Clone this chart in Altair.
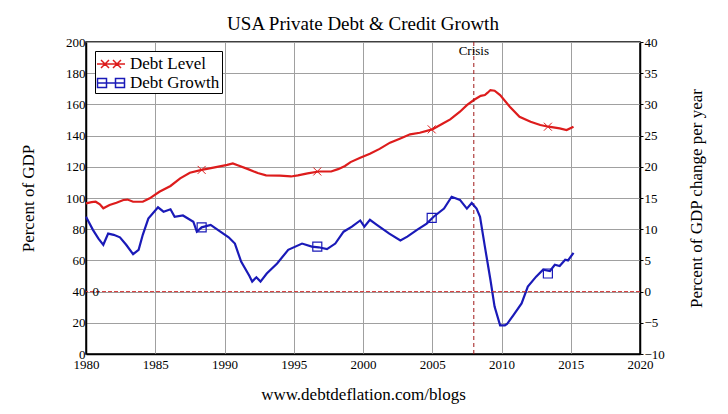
import altair as alt
import pandas as pd

# ---------------- data ----------------
level_years = [1980.0, 1980.4, 1980.7, 1981.0, 1981.25, 1981.7, 1982.2, 1982.7, 1983.0, 1983.4,
               1984.1, 1984.6, 1985.3, 1986.1, 1986.8, 1987.5, 1988.35, 1989.2, 1990.2, 1990.6,
               1991.0, 1991.7, 1992.4, 1993.0, 1994.0, 1994.8, 1995.3, 1996.0, 1996.8, 1997.7,
               1998.2, 1998.7, 1999.1, 1999.8, 2000.5, 2001.2, 2001.95, 2002.7, 2003.4, 2004.1,
               2005.0, 2005.8, 2006.3, 2007.0, 2007.5, 2008.0, 2008.5, 2008.8, 2009.0, 2009.2,
               2009.5, 2009.9, 2010.6, 2011.3, 2012.1, 2012.8, 2013.4, 2014.2, 2014.7, 2015.2]
level_values = [96.6, 97.3, 97.6, 96.0, 93.4, 95.5, 97.0, 98.7, 99.0, 97.6,
                97.6, 99.8, 104.0, 107.7, 112.6, 116.2, 118.0, 119.5, 121.2, 122.2,
                120.8, 118.5, 116.0, 114.5, 114.3, 113.8, 114.5, 115.8, 117.0, 117.0,
                118.5, 120.5, 123.0, 125.8, 128.3, 131.5, 135.5, 138.2, 140.8, 141.8,
                144.0, 147.9, 150.4, 155.3, 159.5, 162.8, 165.5, 166.0, 167.5, 169.2,
                168.8, 166.0, 158.5, 152.0, 148.9, 146.8, 145.7, 144.6, 143.6, 145.7]

growth_years = [1980.0, 1980.5, 1980.9, 1981.25, 1981.6, 1982.0, 1982.45, 1982.9, 1983.4, 1983.8,
                1984.1, 1984.5, 1985.2, 1985.6, 1986.1, 1986.4, 1987.0, 1987.75, 1988.0, 1988.35,
                1989.0, 1989.7, 1990.3, 1990.75, 1991.2, 1991.8, 1992.0, 1992.3, 1992.6, 1993.05,
                1993.8, 1994.6, 1995.6, 1996.3, 1996.8, 1997.4, 1998.0, 1998.6, 1999.2, 1999.8,
                2000.1, 2000.5, 2001.0, 2001.9, 2002.7, 2003.2, 2003.9, 2004.6, 2005.1, 2005.85,
                2006.4, 2007.0, 2007.5, 2007.85, 2008.2, 2008.45, 2008.8, 2009.2, 2009.5, 2009.9,
                2010.25, 2010.4, 2010.85, 2011.45, 2011.9, 2012.5, 2013.0, 2013.5, 2013.85, 2014.2,
                2014.6, 2014.8, 2015.2]
growth_values = [12.0, 9.9, 8.5, 7.5, 9.3, 9.1, 8.7, 7.5, 6.0, 6.7,
                 9.1, 11.7, 13.5, 12.8, 13.2, 12.0, 12.2, 11.2, 9.6, 10.3,
                 10.7, 9.6, 8.7, 7.7, 4.8, 2.5, 1.6, 2.3, 1.6, 2.9,
                 4.5, 6.7, 7.7, 7.2, 7.1, 6.8, 7.7, 9.6, 10.4, 11.4,
                 10.4, 11.5, 10.7, 9.3, 8.2, 8.8, 9.9, 10.9, 12.0, 13.3,
                 15.2, 14.7, 13.3, 14.2, 13.3, 12.0, 7.2, 1.9, -2.4, -5.4,
                 -5.4, -5.2, -3.8, -1.9, 0.8, 2.4, 3.5, 3.3, 4.3, 4.1,
                 5.1, 5.0, 6.2]

marker_years = [1988.35, 1996.7, 2004.96, 2013.35]
level_markers = [118.0, 117.0, 144.0, 145.7]
growth_markers = [10.3, 7.2, 11.8, 2.9]

series_names = ["Debt Level", "Debt Growth"]
crisis_year = [2008]
crisis_label = ["Crisis"]
x_ticks = [1980, 1985, 1990, 1995, 2000, 2005, 2010, 2015, 2020]
left_ticks = [0, 20, 40, 60, 80, 100, 120, 140, 160, 180, 200]
right_ticks = [-10, -5, 0, 5, 10, 15, 20, 25, 30, 35, 40]

# ---------------- styling ----------------
RED = "#dd1c1c"
BLUE = "#1a1ab8"
FONT = "Liberation Serif"

df_level = pd.DataFrame({"year": level_years, "level": level_values})
df_growth = pd.DataFrame({"year": growth_years, "growth": growth_values})
df_lmark = pd.DataFrame({"year": marker_years, "level": level_markers})
df_gmark = pd.DataFrame({"year": marker_years, "growth": growth_markers})
df_crisis = pd.DataFrame({"year": crisis_year, "label": crisis_label, "level": [194]})
df_zero = pd.DataFrame({"growth": [0], "year": [1980.7], "label": ["0"]})
df_leg = pd.DataFrame({"series": series_names})

xscale = alt.Scale(domain=[1980, 2020], nice=False, zero=False)
lscale = alt.Scale(domain=[0, 200], nice=False, zero=False)
rscale = alt.Scale(domain=[-10, 40], nice=False, zero=False)

x_axis = alt.Axis(values=x_ticks, format="d", grid=True, gridColor="#a0a0a0", gridWidth=1,
                  ticks=False, labelPadding=4, labelFont=FONT, labelFontSize=13,
                  labelColor="black", labelFlush=False, labelOverlap=False,
                  domainColor="black", domainWidth=1.5,
                  title="www.debtdeflation.com/blogs", titleFont=FONT, titleFontSize=17,
                  titleFontWeight="normal", titleColor="black", titlePadding=15)
left_axis = alt.Axis(values=left_ticks, grid=True, gridColor="#a0a0a0", gridWidth=1,
                     ticks=False, labelPadding=1, labelFont=FONT, labelFontSize=13,
                     labelColor="black", labelFlush=False, labelOverlap=False,
                     domainColor="black", domainWidth=1.5,
                     title="Percent of GDP", titleFont=FONT, titleFontSize=17,
                     titleFontWeight="normal", titleColor="black", titlePadding=28)
right_axis = alt.Axis(orient="right", values=right_ticks, grid=False, tickSize=3,
                      tickColor="black", labelPadding=1, labelFont=FONT, labelFontSize=13,
                      labelColor="black", labelFlush=False, labelOverlap=False,
                      domainColor="black", domainWidth=1.5,
                      title="Percent of GDP change per year", titleFont=FONT, titleFontSize=17,
                      titleFontWeight="normal", titleColor="black", titleAngle=270,
                      titleBaseline="top", titlePadding=24)


def X():
    return alt.X("year:Q", scale=xscale, axis=x_axis)


def YL():
    return alt.Y("level:Q", scale=lscale, axis=left_axis)


def YR():
    return alt.Y("growth:Q", scale=rscale, axis=right_axis)


# ---------------- left (Debt Level) group ----------------
red_line = alt.Chart(df_level).mark_line(color=RED, strokeWidth=2.2).encode(x=X(), y=YL())
red_marks = alt.Chart(df_lmark).mark_point(
    shape="M-1,-1L1,1M-1,1L1,-1", size=64, color=RED, filled=False, strokeWidth=1, opacity=1
).encode(x=X(), y=YL())
crisis_rule = alt.Chart(df_crisis).mark_rule(
    color="#a01818", strokeDash=[4, 3], strokeWidth=1).encode(x=X())
crisis_text = alt.Chart(df_crisis).mark_text(
    font=FONT, fontSize=13, color="black", baseline="middle", align="center"
).encode(x=X(), y=YL(), text="label:N")
leg_l = "M-1.4,0H1.4M-1,-0.4L-0.2,0.4M-1,0.4L-0.2,-0.4M0.2,-0.4L1,0.4M0.2,0.4L1,-0.4"
leg_g = "M-1.4,0H1.4M-1.35,-0.45H-0.45V0.45H-1.35ZM0.45,-0.45H1.35V0.45H0.45Z"
legend_layer = alt.Chart(df_leg).mark_point(filled=False, opacity=0, strokeWidth=1.5).encode(
    color=alt.Color("series:N", scale=alt.Scale(domain=series_names, range=[RED, BLUE]),
                    legend=alt.Legend(title=None, symbolOpacity=1)),
    shape=alt.Shape("series:N", scale=alt.Scale(domain=series_names, range=[leg_l, leg_g]),
                    legend=alt.Legend(title=None, symbolOpacity=1)),
)
left_group = alt.layer(red_line, red_marks, crisis_rule, crisis_text, legend_layer)

# ---------------- right (Debt Growth) group ----------------
blue_line = alt.Chart(df_growth).mark_line(color=BLUE, strokeWidth=2.2).encode(x=X(), y=YR())
zero_rule = alt.Chart(df_zero).mark_rule(
    color="#d23030", strokeDash=[4, 2], strokeWidth=1).encode(y=YR())
zero_text = alt.Chart(df_zero).mark_text(
    font=FONT, fontSize=13, color="black", baseline="middle", align="center"
).encode(x=X(), y=YR(), text="label:N")
blue_marks = alt.Chart(df_gmark).mark_point(
    shape="square", size=81, color=BLUE, filled=False, strokeWidth=1.2, opacity=1
).encode(x=X(), y=YR())
right_group = alt.layer(blue_line, zero_rule, zero_text, blue_marks)

chart = alt.layer(left_group, right_group).resolve_scale(y="independent").properties(
    width=554,
    height=312,
    autosize=alt.AutoSizeParams(type="none"),
    padding={"left": 78, "top": 34, "right": 80, "bottom": 52},
    background="white",
    title=alt.TitleParams("USA Private Debt & Credit Growth", font=FONT, fontSize=19,
                          fontWeight="normal", color="black", anchor="middle", offset=2),
).configure(
    font=FONT
).configure_axis(
    labelFont=FONT, titleFont=FONT
).configure_text(
    font=FONT
).configure_view(
    stroke="black", strokeWidth=1.5
).configure_legend(
    orient="top-left", offset=9, padding=2, strokeColor="black", fillColor="white",
    symbolSize=400, symbolStrokeWidth=1.5, symbolOffset=3, labelOffset=8,
    labelFont=FONT, labelFontSize=17, labelColor="black", rowPadding=0, cornerRadius=0,
)

chart.save("out.html", embed_options={"renderer": "svg", "actions": False})
